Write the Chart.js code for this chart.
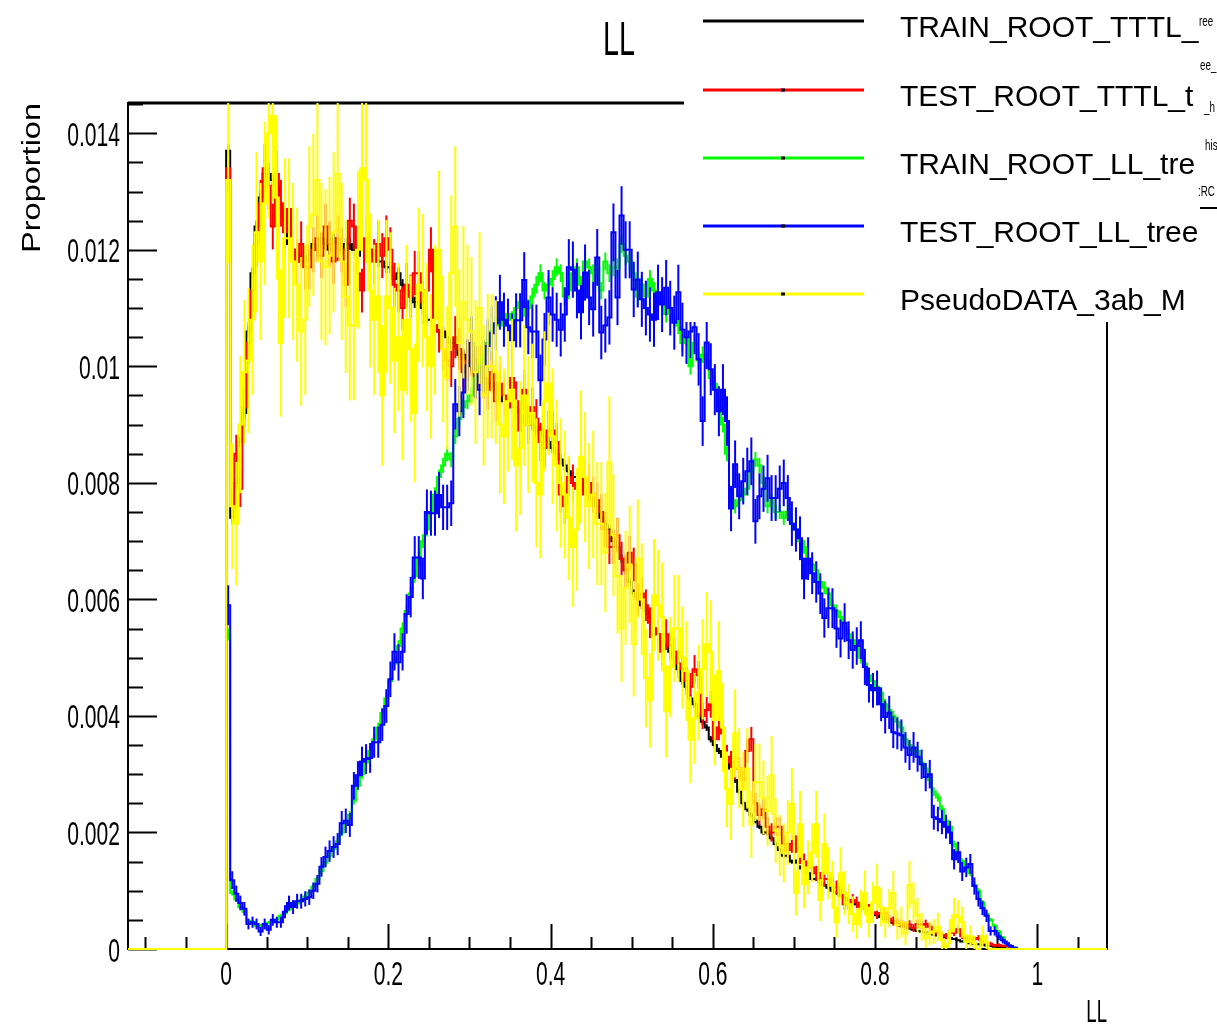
<!DOCTYPE html>
<html>
<head>
<meta charset="utf-8">
<script src="https://cdn.jsdelivr.net/npm/chart.js@4/dist/chart.umd.min.js"></script>
<style>
html,body{margin:0;padding:0;background:#fff;overflow:hidden}
canvas{display:block}
</style>
</head>
<body>
<canvas id="c" width="1217" height="1030"></canvas>
<script>
// ---------------- data ----------------
const chartTitle = 'LL';
const xAxisTitle = 'LL';
const yAxisTitle = 'Proportion';
const binStart = 0.0;
const binWidth = 0.005;
const xRange = [-0.121, 1.086];
const yRange = [0, 0.01452];
const xTickValues = [0, 0.2, 0.4, 0.6, 0.8, 1];
const xTickLabels = ['0', '0.2', '0.4', '0.6', '0.8', '1'];
const yTickValues = [0, 0.002, 0.004, 0.006, 0.008, 0.01, 0.012, 0.014];
const yTickLabels = ['0', '0.002', '0.004', '0.006', '0.008', '0.01', '0.012', '0.014'];

const seriesNames = ['TRAIN_ROOT_TTTL_', 'TEST_ROOT_TTTL_t', 'TRAIN_ROOT_LL_tre', 'TEST_ROOT_LL_tree', 'PseudoDATA_3ab_M'];
const seriesColors = ['#000000', '#ff0000', '#00ff00', '#0000ff', '#ffff00'];
// effective entries used for the statistical error bars of each histogram
const seriesEntries = [1200000, 80000, 500000, 50000, 6500];

const trainTTTL = [
0.0137,0.0074,0.0080,0.0087,0.0092,0.0106,0.0116,0.0124,0.0129,0.0133,
0.0133,0.0132,0.0131,0.0127,0.0125,0.0121,0.0120,0.0119,0.0118,0.0118,
0.0119,0.0121,0.0120,0.0122,0.0121,0.0120,0.0122,0.0121,0.0120,0.0121,
0.0121,0.0120,0.0119,0.0121,0.0120,0.0119,0.0120,0.0118,0.0118,0.0117,
0.0117,0.0115,0.0116,0.0114,0.0113,0.0112,0.0111,0.0111,0.0110,0.0108,
0.0108,0.0107,0.0106,0.0106,0.0105,0.0104,0.0104,0.0102,0.0102,0.0101,
0.0100,0.0099,0.0099,0.0098,0.0097,0.0097,0.0096,0.0095,0.0094,0.0094,
0.0093,0.0093,0.0092,0.0091,0.0091,0.0090,0.0089,0.0089,0.0088,0.0087,
0.0086,0.0085,0.0084,0.0083,0.0082,0.0081,0.0081,0.0080,0.0079,0.0078,
0.0077,0.0076,0.0074,0.0073,0.0072,0.0070,0.0069,0.0067,0.0065,0.0063,
0.0061,0.0060,0.0059,0.0058,0.0057,0.0055,0.0054,0.0053,0.0052,0.0051,
0.0050,0.0048,0.0046,0.0045,0.0043,0.0042,0.0040,0.0039,0.0038,0.0036,
0.0035,0.0034,0.0033,0.0032,0.0031,0.0029,0.0027,0.0025,0.0024,0.0023,
0.0022,0.0021,0.0020,0.0020,0.0019,0.0018,0.0017,0.0016,0.0016,0.0015,
0.0015,0.0014,0.0014,0.0013,0.0012,0.0012,0.00115,0.0011,0.00105,0.0010,
0.00096,0.00092,0.00088,0.00084,0.0008,0.00077,0.00073,0.0007,0.00065,0.00061,
0.00058,0.00055,0.00051,0.00048,0.00045,0.00043,0.0004,0.00038,0.00035,0.00033,
0.00031,0.0003,0.00028,0.00026,0.00025,0.00023,0.00022,0.0002,0.00019,0.00017,
0.00015,0.00013,0.00012,0.0001,0.00009,0.00008,0.00007,0.00006,0.00005,0.00004,
0.00003,0.00002,0.00001,0,0,0,0,0,0,0];

const testTTTL = [
0.0134,0.0076,0.0085,0.0079,0.0093,0.0104,0.0113,0.0121,0.0128,0.0134,
0.0131,0.0124,0.0133,0.0128,0.0123,0.0127,0.0120,0.0118,0.0121,0.0117,
0.0117,0.0120,0.0122,0.0119,0.0124,0.0121,0.0118,0.0122,0.0120,0.0114,
0.0125,0.0124,0.0116,0.0113,0.0122,0.0120,0.0118,0.0121,0.0119,0.0122,
0.0120,0.0114,0.0113,0.0110,0.0114,0.0112,0.0116,0.0116,0.0111,0.0113,
0.0120,0.0107,0.0106,0.0103,0.0101,0.0100,0.0105,0.0103,0.0099,0.0101,
0.0102,0.0098,0.0100,0.0098,0.0096,0.0099,0.0094,0.0097,0.0095,0.0093,
0.0098,0.0094,0.0089,0.0096,0.0090,0.0093,0.0091,0.0087,0.0086,0.0089,
0.0089,0.0087,0.0078,0.0076,0.0081,0.0080,0.0079,0.0078,0.0081,0.0080,
0.0078,0.0077,0.0075,0.0072,0.0069,0.0069,0.0071,0.0067,0.0065,0.0068,
0.0066,0.0060,0.0061,0.0059,0.0056,0.0055,0.0054,0.0051,0.0054,0.0052,
0.0051,0.0049,0.0048,0.0046,0.0045,0.0048,0.0047,0.0040,0.0041,0.0042,
0.0036,0.0038,0.0037,0.0033,0.0032,0.0031,0.0031,0.0029,0.0034,0.0036,
0.0025,0.0023,0.0024,0.0021,0.0020,0.0021,0.0021,0.0018,0.0017,0.0018,
0.0018,0.0016,0.0015,0.0014,0.0014,0.0013,0.0012,0.0012,0.0012,0.0011,
0.00106,0.0010,0.00077,0.00077,0.00084,0.0008,0.00072,0.0007,0.00068,0.00063,
0.0006,0.00062,0.00062,0.00052,0.00048,0.00045,0.00043,0.0004,0.00042,0.00036,
0.00043,0.00041,0.00043,0.00038,0.00029,0.00027,0.00024,0.00022,0.0003,0.00028,
0.00034,0.00022,0.00018,0.00019,0.00017,0.00019,0.00013,0.00011,0.00009,0.00006,
0.00007,0.00005,0.00006,0.00002,0.00001,0,0,0,0,0];

const trainLL = [
0.0054,0.00096,0.00085,0.00072,0.00064,0.00048,0.00047,0.0004,0.0004,0.00042,
0.00045,0.00047,0.0005,0.00057,0.00062,0.00068,0.00073,0.00078,0.00084,0.0009,
0.00097,0.00107,0.0012,0.00134,0.00148,0.0016,0.00172,0.00185,0.002,0.00215,
0.0023,0.00255,0.0028,0.003,0.0032,0.0034,0.0036,0.0038,0.00405,0.0043,
0.0046,0.0049,0.0052,0.0055,0.0058,0.0061,0.0064,0.0067,0.0070,0.0072,
0.0075,0.0078,0.0081,0.0083,0.0085,0.0084,0.0088,0.0091,0.0093,0.0094,
0.0095,0.0098,0.0100,0.0102,0.0104,0.0106,0.0107,0.0108,0.0107,0.0109,
0.0108,0.0110,0.0111,0.0110,0.0110,0.0112,0.0114,0.0116,0.0113,0.0114,
0.0115,0.0117,0.0116,0.0112,0.0113,0.0116,0.0117,0.0114,0.0118,0.0117,
0.0116,0.0117,0.0113,0.0118,0.0116,0.0117,0.0117,0.0121,0.0119,0.0118,
0.0116,0.0112,0.0114,0.0112,0.0115,0.0113,0.0111,0.0112,0.0109,0.0110,
0.0108,0.0107,0.0104,0.0105,0.0100,0.0104,0.0101,0.0102,0.0101,0.0098,
0.0097,0.0093,0.0090,0.0085,0.0078,0.0076,0.0077,0.0078,0.0079,0.0082,
0.0084,0.0083,0.0080,0.0076,0.0077,0.0075,0.0075,0.0074,0.0075,0.0073,
0.0072,0.0070,0.0069,0.0067,0.0066,0.0065,0.0063,0.0062,0.0061,0.0059,
0.0058,0.0057,0.0055,0.0054,0.0053,0.0052,0.0050,0.0049,0.0047,0.0046,
0.0045,0.0044,0.0042,0.0041,0.0040,0.0039,0.0038,0.0036,0.0035,0.0034,
0.0034,0.0032,0.0031,0.0029,0.0027,0.0026,0.0024,0.0022,0.0021,0.0018,
0.0016,0.0015,0.0014,0.0013,0.0011,0.0010,0.0008,0.0006,0.0005,0.0004,
0.0003,0.0002,0.0001,0.00005,0.00002,0,0,0,0,0];

const testLL = [
0.0059,0.00118,0.00095,0.00079,0.00069,0.00043,0.00046,0.00043,0.0003,0.00043,
0.00033,0.0005,0.00046,0.00046,0.00064,0.00079,0.00072,0.00082,0.00082,0.00086,
0.00089,0.001,0.00112,0.00141,0.00158,0.00168,0.00175,0.0018,0.00216,0.0022,
0.00213,0.0028,0.00298,0.00322,0.00326,0.00328,0.00355,0.00355,0.00385,0.00417,
0.00463,0.0051,0.00492,0.0051,0.00575,0.00604,0.00672,0.00672,0.00636,0.0075,
0.00748,0.00748,0.00779,0.00758,0.00758,0.00765,0.00935,0.00923,0.00955,0.01002,
0.0104,0.0099,0.0096,0.0100,0.01035,0.01057,0.01074,0.0111,0.0108,0.0107,
0.01045,0.01079,0.01079,0.01148,0.01067,0.0106,0.0106,0.00976,0.01046,0.01118,
0.01089,0.0108,0.01063,0.01089,0.0117,0.01166,0.0113,0.01093,0.01161,0.01118,
0.01098,0.01187,0.01058,0.0107,0.01084,0.0123,0.01118,0.01259,0.0120,0.0120,
0.01132,0.01149,0.01115,0.0110,0.01089,0.0108,0.01127,0.01106,0.01135,0.0110,
0.01075,0.01127,0.01063,0.0105,0.0106,0.01067,0.01012,0.00906,0.01041,0.00995,
0.0096,0.00923,0.0096,0.00906,0.00756,0.00832,0.00777,0.00803,0.0082,0.00837,
0.00734,0.00777,0.0079,0.00808,0.00774,0.00774,0.0079,0.008,0.00774,0.0073,
0.0072,0.00705,0.00636,0.0067,0.00645,0.0063,0.0061,0.00568,0.00585,0.00585,
0.0055,0.00533,0.0056,0.0053,0.00513,0.0052,0.0053,0.00484,0.00453,0.00444,
0.00448,0.0042,0.00398,0.00406,0.00372,0.0037,0.00367,0.00346,0.00333,0.00346,
0.0033,0.00317,0.00295,0.003,0.00226,0.00223,0.00218,0.0021,0.002,0.00154,
0.00166,0.00133,0.0014,0.00146,0.00108,0.00086,0.0007,0.00057,0.00031,0.00031,
0.00022,0.00015,0.0001,0.00005,0.00002,0,0,0,0,0];

const pseudoData = [
0.0132,0.0076,0.0073,0.0090,0.0099,0.0101,0.0108,0.0123,0.0118,0.0128,
0.0140,0.0143,0.0129,0.0104,0.0122,0.0122,0.0118,0.0114,0.0106,0.0108,
0.0124,0.0126,0.0132,0.0118,0.0117,0.0119,0.0123,0.0133,0.0118,0.0112,
0.0107,0.0107,0.0120,0.0134,0.0132,0.0113,0.0108,0.0112,0.0095,0.0112,
0.0110,0.0101,0.0105,0.0096,0.0108,0.0103,0.0092,0.0114,0.0113,0.0105,
0.0100,0.0108,0.0120,0.0103,0.0098,0.0116,0.0124,0.0104,0.0111,0.0108,
0.0106,0.0099,0.0110,0.0095,0.0100,0.0100,0.0099,0.0090,0.0088,0.0094,
0.0096,0.0083,0.0086,0.0095,0.0090,0.0092,0.0080,0.0078,0.0094,0.0097,
0.0088,0.0083,0.0080,0.0078,0.0074,0.0069,0.0072,0.00845,0.0081,0.0076,
0.0078,0.0073,0.0073,0.0068,0.00835,0.0071,0.0064,0.0055,0.0062,0.0066,
0.00523,0.0067,0.0060,0.00465,0.00427,0.00607,0.0059,0.0057,0.00408,0.00484,
0.0055,0.0055,0.0050,0.00477,0.00359,0.00396,0.0044,0.0048,0.00523,0.0051,
0.00393,0.00477,0.0038,0.00274,0.00249,0.0037,0.0031,0.00274,0.0031,0.00214,
0.00286,0.00286,0.0026,0.00237,0.00298,0.00203,0.00178,0.00165,0.0020,0.00249,
0.00096,0.00214,0.00111,0.0014,0.00165,0.00214,0.00084,0.0018,0.0013,0.0011,
0.00046,0.0013,0.00096,0.00077,0.0006,0.00043,0.00069,0.00096,0.00046,0.0008,
0.00106,0.00072,0.00046,0.0007,0.00096,0.00041,0.00046,0.00027,0.0011,0.0008,
0.00058,0.00038,0.00019,0.00027,0.0003,0.00038,0.00015,0.00003,0.0003,0.00058,
0.00055,0.00046,0.00012,0.00022,0.0001,0,0.00022,0.00012,0,0,
0,0,0,0,0,0,0,0,0,0];

// ---------------- chart ----------------
const seriesValues = [trainTTTL, testTTTL, trainLL, testLL, pseudoData];
const drawOrder = [4, 3, 2, 1, 0]; // higher = drawn further below

function histPoints(vals) {
  const pts = [{x: xRange[0], y: 0}];
  vals.forEach((v, i) => pts.push({x: binStart + i * binWidth, y: v}));
  pts.push({x: binStart + vals.length * binWidth, y: 0});
  pts.push({x: xRange[1], y: 0});
  return pts;
}

const datasets = seriesValues.map((vals, i) => ({
  label: seriesNames[i],
  data: histPoints(vals),
  borderColor: seriesColors[i],
  backgroundColor: seriesColors[i],
  borderWidth: 2,
  pointRadius: 0,
  stepped: 'before',
  fill: false,
  order: drawOrder[i],
  clip: {left: 1, right: 1, top: 0, bottom: 2},
  binValues: vals,
  entries: seriesEntries[i]
}));

const FONT = '"Liberation Sans", Arial, Helvetica, sans-serif';

function scaledText(ctx, text, x, y, size, sx, align) {
  ctx.save();
  ctx.translate(x, y);
  ctx.scale(sx, 1);
  ctx.font = size + 'px ' + FONT;
  ctx.textAlign = align;
  ctx.textBaseline = 'alphabetic';
  ctx.fillStyle = '#000';
  ctx.fillText(text, 0, 0);
  ctx.restore();
}

const rootPlugin = {
  id: 'rootStyle',
  beforeDatasetsDraw(chart) {
    const ctx = chart.ctx, ca = chart.chartArea;
    const xs = chart.scales.x, ys = chart.scales.y;
    ctx.save();
    ctx.strokeStyle = '#000';
    ctx.lineWidth = 2;
    ctx.beginPath();
    ctx.rect(ca.left, ca.top, ca.right - ca.left, ca.bottom - ca.top);
    ctx.stroke();
    ctx.lineWidth = 3;
    ctx.beginPath(); ctx.moveTo(ca.left, ca.top); ctx.lineTo(ca.right, ca.top); ctx.stroke();
    ctx.lineWidth = 2;
    // x ticks (inside the frame)
    for (let k = -2; k <= 21; k++) {
      const v = k * 0.05;
      const px = Math.round(xs.getPixelForValue(v)) + 0.5;
      if (px < ca.left || px > ca.right) continue;
      const len = (k % 4 === 0) ? 25 : 12;
      ctx.beginPath(); ctx.moveTo(px, ca.bottom); ctx.lineTo(px, ca.bottom - len); ctx.stroke();
    }
    // y ticks
    for (let k = 0; k <= 29; k++) {
      const v = k * 0.0005;
      const py = Math.round(ys.getPixelForValue(v)) + 0.5;
      if (py < ca.top) continue;
      const len = (k % 4 === 0) ? 29 : 15;
      ctx.beginPath(); ctx.moveTo(ca.left, py); ctx.lineTo(ca.left + len, py); ctx.stroke();
    }
    ctx.restore();
  },
  afterDatasetDraw(chart, args) {
    const ds = chart.data.datasets[args.index];
    const ctx = chart.ctx, ca = chart.chartArea;
    const xs = chart.scales.x, ys = chart.scales.y;
    ctx.save();
    ctx.beginPath();
    ctx.rect(ca.left, ca.top, ca.right - ca.left, ca.bottom - ca.top);
    ctx.clip();
    ctx.strokeStyle = ds.borderColor;
    ctx.lineWidth = 2;
    ds.binValues.forEach((v, i) => {
      if (v <= 0) return;
      const err = Math.sqrt(v / ds.entries);
      const px = xs.getPixelForValue(binStart + (i + 0.5) * binWidth);
      ctx.beginPath();
      ctx.moveTo(px, ys.getPixelForValue(v - err));
      ctx.lineTo(px, ys.getPixelForValue(v + err));
      ctx.stroke();
    });
    ctx.restore();
  },
  afterDraw(chart) {
    const ctx = chart.ctx, ca = chart.chartArea;
    const xs = chart.scales.x, ys = chart.scales.y;
    // tick labels
    xTickValues.forEach((v, i) => {
      scaledText(ctx, xTickLabels[i], xs.getPixelForValue(v), 985, 34, 0.62, 'center');
    });
    yTickValues.forEach((v, i) => {
      scaledText(ctx, yTickLabels[i], 120, ys.getPixelForValue(v) + 12.5, 34, 0.62, 'right');
    });
    // axis titles
    scaledText(ctx, xAxisTitle, ca.right, 1022, 31, 0.6, 'right');
    ctx.save();
    ctx.translate(40, ca.top);
    ctx.rotate(-Math.PI / 2);
    ctx.scale(1.3, 1);
    ctx.font = '25px ' + FONT;
    ctx.textAlign = 'right';
    ctx.fillStyle = '#000';
    ctx.fillText(yAxisTitle, 0, 0);
    ctx.restore();
    // title
    scaledText(ctx, chartTitle, 619, 55, 48, 0.6, 'center');
    // legend box
    ctx.save();
    ctx.fillStyle = '#fff';
    ctx.fillRect(684, 0, 1217 - 684, 322);
    const rowY = [21, 90, 158, 226, 294];
    seriesNames.forEach((name, i) => {
      const y = rowY[i];
      ctx.strokeStyle = seriesColors[i];
      ctx.lineWidth = 3;
      ctx.beginPath(); ctx.moveTo(703, y); ctx.lineTo(864, y); ctx.stroke();
      if (i > 0) { ctx.fillStyle = '#000'; ctx.fillRect(781, y - 1.5, 4, 3); }
      ctx.save();
      ctx.beginPath(); ctx.rect(880, y - 40, 1199 - 880, 70); ctx.clip();
      ctx.font = '30px ' + FONT;
      ctx.fillStyle = '#000';
      ctx.textAlign = 'left';
      ctx.fillText(name, 900, y + 16);
      ctx.restore();
    });
    // clipped fragments of overlapping legend labels
    const frag = [['ree', 1199, 26], ['ee_', 1200, 70], ['_h', 1204, 112], ['his', 1205, 150], [':RC', 1198, 196]];
    frag.forEach(f => scaledText(ctx, f[0], f[1], f[2], 14, 0.7, 'left'));
    ctx.strokeStyle = '#000'; ctx.lineWidth = 2;
    ctx.beginPath(); ctx.moveTo(1200, 208); ctx.lineTo(1217, 208); ctx.stroke();
    ctx.restore();
  }
};

new Chart(document.getElementById('c'), {
  type: 'line',
  data: {datasets},
  options: {
    responsive: false,
    animation: false,
    devicePixelRatio: 1,
    layout: {padding: {left: 0, top: 103, right: 110, bottom: 0}},
    plugins: {legend: {display: false}, tooltip: {enabled: false}, title: {display: false}},
    scales: {
      x: {type: 'linear', min: xRange[0], max: xRange[1],
          grid: {display: false}, border: {display: false}, ticks: {display: false},
          afterFit(s) { s.height = 81; }},
      y: {type: 'linear', min: yRange[0], max: yRange[1],
          grid: {display: false}, border: {display: false}, ticks: {display: false},
          afterFit(s) { s.width = 128; }}
    }
  },
  plugins: [rootPlugin]
});
</script>
</body>
</html>
